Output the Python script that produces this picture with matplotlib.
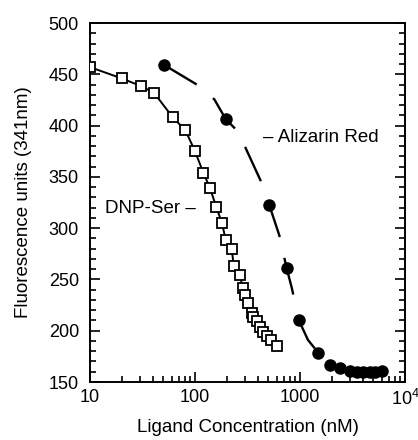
import matplotlib
matplotlib.use("Agg")
import matplotlib.pyplot as plt
from matplotlib.ticker import FixedLocator, LogLocator, NullFormatter, MultipleLocator

plt.rcParams['font.family'] = ['Liberation Sans', 'DejaVu Sans']
plt.rcParams['mathtext.default'] = 'regular'

# DNP-Ser titration (open squares, solid fit)
dnp_conc = [10, 20, 30.6, 40.7, 61.4, 81, 100, 120, 139, 159, 180, 197, 223, 235,
            268, 284, 299, 318, 347, 359, 387, 416, 447, 482, 526, 600]
dnp_fluor = [457, 446, 438.5, 432, 408, 395.5, 375, 354, 339, 321, 305.5, 288, 279.5, 263,
             254, 242, 235, 227, 217, 213.5, 209, 204, 199, 195, 191, 185.5]

# Alizarin Red titration (filled circles)
ar_conc = [51, 197, 510, 746, 977, 1493, 1931, 2405, 2993, 3467, 4008, 4642, 5180, 5996]
ar_fluor = [459, 406, 322.5, 261, 210, 178.5, 167, 163.5, 161, 160, 159.5, 159.5, 160, 161]

# Alizarin Red fitted curve (dashed)
ar_fit_conc = [51, 104, 153, 197, 258, 315, 441, 510, 635, 746, 834, 977, 1191, 1493,
               1931, 2405, 2993, 3467, 4008, 4642, 5180, 5996]
ar_fit_fluor = [459, 440, 425.5, 406, 394, 374.5, 342, 322.5, 293, 261, 242, 210, 191, 178.5,
                167, 163.5, 161, 160, 159.5, 159.5, 160, 161]

xticks = [10, 100, 1000, 10000]
xticklabels = ['10', '100', '1000', '10$^4$']

fig = plt.figure(figsize=(4.18, 4.40), dpi=100)
ax = fig.add_axes([90/418, 1 - 382/440, 315/418, 359/440])

ax.plot(dnp_conc, dnp_fluor, '-', color='black', lw=1.4, zorder=2)
ax.plot(dnp_conc, dnp_fluor, 's', ms=7.5, mfc='white', mec='black', mew=1.3, zorder=3)

ax.plot(ar_fit_conc, ar_fit_fluor, color='black', lw=1.7, ls=(0, (16, 9)), zorder=2)
ax.plot(ar_conc, ar_fluor, 'o', ms=8, color='black', zorder=3)

ax.text(13.9, 319.6, 'DNP-Ser \u2013', fontsize=13.5, va='center', ha='left')
ax.text(445, 388.8, '\u2013 Alizarin Red', fontsize=13.5, va='center', ha='left')

ax.set_xscale('log')
ax.set_xlim(10, 10000)
ax.set_ylim(150, 500)
ax.xaxis.set_major_locator(FixedLocator(xticks))
ax.set_xticklabels(xticklabels)
ax.xaxis.set_minor_locator(LogLocator(base=10, subs=range(2, 10)))
ax.xaxis.set_minor_formatter(NullFormatter())
ax.yaxis.set_major_locator(MultipleLocator(50))
ax.yaxis.set_minor_locator(MultipleLocator(10))

ax.tick_params(which='both', direction='in', top=False, right=True, width=1.2, labelsize=13)
ax.tick_params(which='major', length=7)
ax.tick_params(which='minor', length=4)
ax.tick_params(axis='x', pad=5)
ax.tick_params(axis='y', pad=8)
for s in ax.spines.values():
    s.set_linewidth(1.4)

ax.set_xlabel('Ligand Concentration (nM)', fontsize=13.5, labelpad=7)
ax.set_ylabel('Fluorescence units (341nm)', fontsize=13.5, labelpad=12)

fig.savefig('out.png', dpi=100)
